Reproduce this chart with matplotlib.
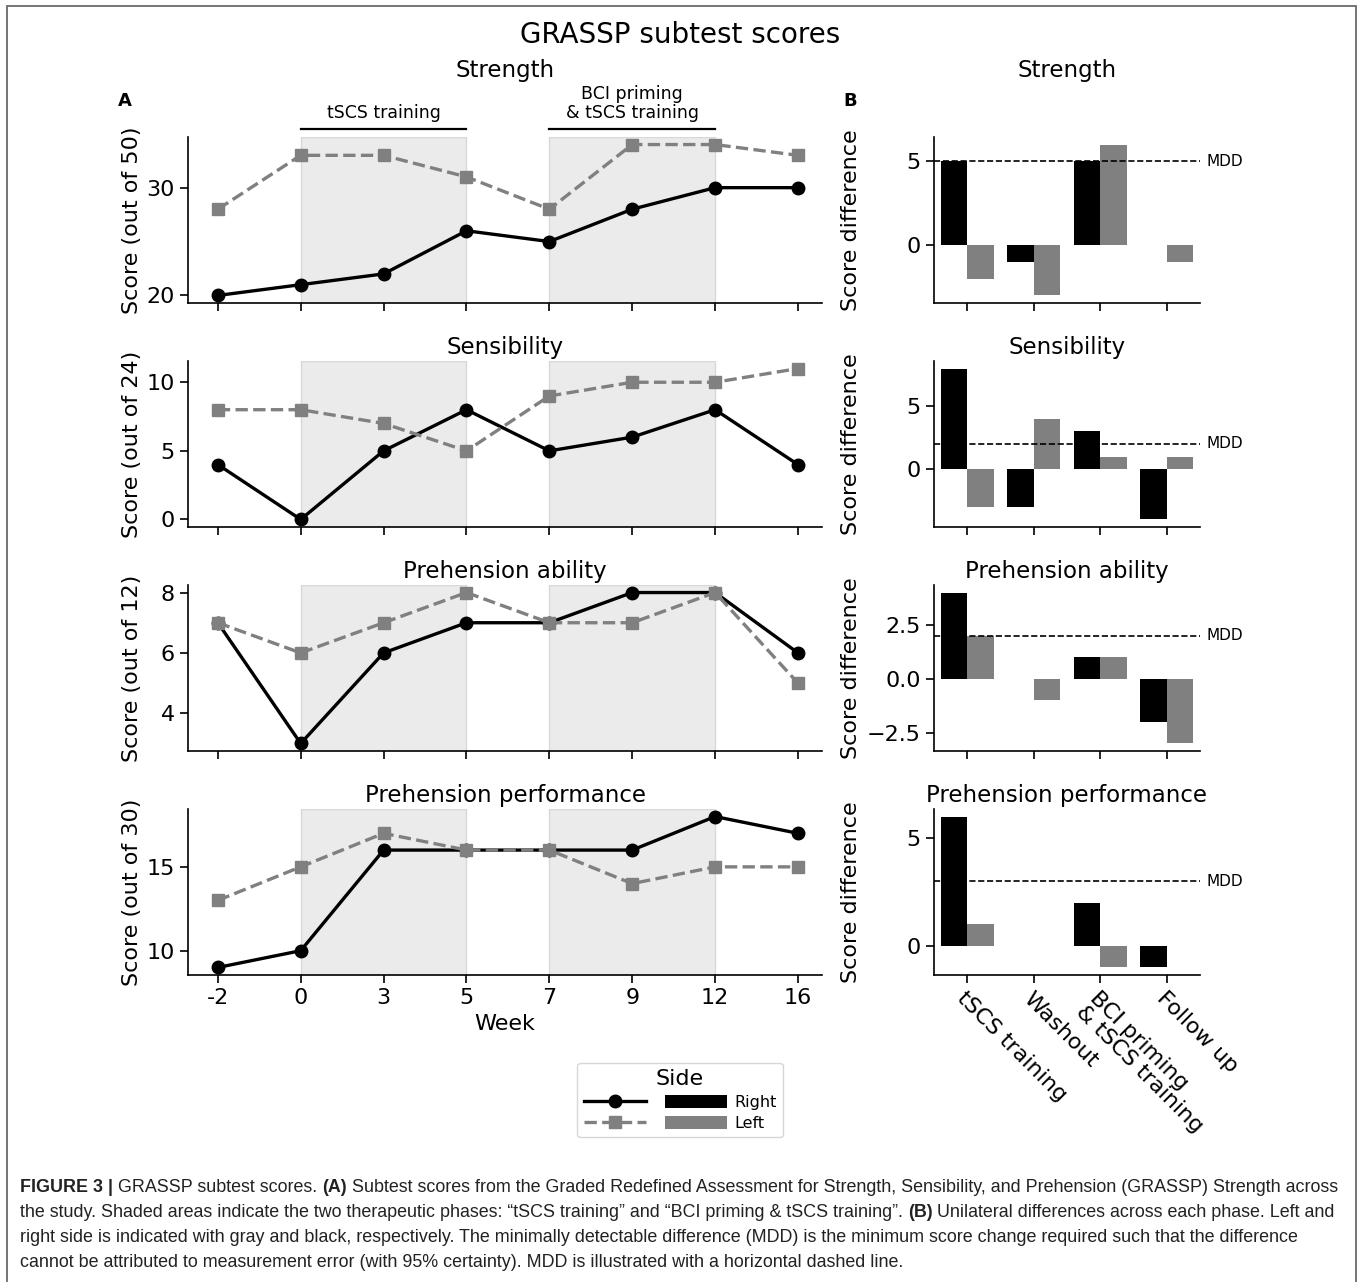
import matplotlib
matplotlib.use('Agg')
import matplotlib.pyplot as plt
import matplotlib.transforms as mtransforms
from matplotlib.lines import Line2D
from matplotlib.patches import Patch, Rectangle
import numpy as np

plt.rcParams['font.family'] = ['DejaVu Sans']

# ---------------- data ----------------
weeks = ['-2', '0', '3', '5', '7', '9', '12', '16']
subtests = ['Strength', 'Sensibility', 'Prehension ability', 'Prehension performance']
ylabels_left = ['Score (out of 50)', 'Score (out of 24)', 'Score (out of 12)', 'Score (out of 30)']

strength_right = [20, 21, 22, 26, 25, 28, 30, 30]
strength_left = [28, 33, 33, 31, 28, 34, 34, 33]
sensibility_right = [4, 0, 5, 8, 5, 6, 8, 4]
sensibility_left = [8, 8, 7, 5, 9, 10, 10, 11]
ability_right = [7, 3, 6, 7, 7, 8, 8, 6]
ability_left = [7, 6, 7, 8, 7, 7, 8, 5]
performance_right = [9, 10, 16, 16, 16, 16, 18, 17]
performance_left = [13, 15, 17, 16, 16, 14, 15, 15]

phases = ['tSCS training', 'Washout', 'BCI priming\n& tSCS training', 'Follow up']
strength_diff_right = [5, -1, 5, 0]
strength_diff_left = [-2, -3, 6, -1]
sensibility_diff_right = [8, -3, 3, -4]
sensibility_diff_left = [-3, 4, 1, 1]
ability_diff_right = [4, 0, 1, -2]
ability_diff_left = [2, -1, 1, -3]
performance_diff_right = [6, 0, 2, -1]
performance_diff_left = [1, 0, -1, 0]
mdd_values = [5, 2, 2, 3]

therapy_spans = [(1, 3), (4, 6)]
therapy_labels = ['tSCS training', 'BCI priming\n& tSCS training']

left_yticks = [[20, 30], [0, 5, 10], [4, 6, 8], [10, 15]]
right_yticks = [[0, 5], [0, 5], [-2.5, 0, 2.5], [0, 5]]

right_series = [strength_right, sensibility_right, ability_right, performance_right]
left_series = [strength_left, sensibility_left, ability_left, performance_left]
diff_right = [strength_diff_right, sensibility_diff_right, ability_diff_right, performance_diff_right]
diff_left = [strength_diff_left, sensibility_diff_left, ability_diff_left, performance_diff_left]

# ---------------- styling ----------------
BLACK = '#000000'
GRAY = '#808080'
SHADE = '#ebebeb'

W, H = 1360, 1282
fig = plt.figure(figsize=(W / 100, H / 100), dpi=100)
fig.patch.set_facecolor('white')


def px_axes(l, t, r, b):
    return fig.add_axes([l / W, 1 - b / H, (r - l) / W, (b - t) / H])


def style_axes(ax):
    for s in ['top', 'right']:
        ax.spines[s].set_visible(False)
    for s in ['left', 'bottom']:
        ax.spines[s].set_linewidth(1.2)
    ax.tick_params(labelsize=16, length=6, width=1.2)


L_LEFT, L_RIGHT = 188, 822
R_LEFT, R_RIGHT = 934, 1200
TOP0, BOT0, STEP = 137, 303, 224

x = np.arange(len(weeks))
xb = np.arange(len(phases))

for i in range(4):
    top = TOP0 + STEP * i
    bot = BOT0 + STEP * i

    # ---------- left column ----------
    ax = px_axes(L_LEFT, top, L_RIGHT, bot)
    style_axes(ax)
    for (a, b) in therapy_spans:
        ax.axvspan(a, b, facecolor=SHADE, edgecolor='#d8d8d8', lw=1.0, zorder=0)
    ax.plot(x, right_series[i], color=BLACK, lw=2.4, marker='o', ms=9, zorder=3)
    ax.plot(x, left_series[i], color=GRAY, lw=2.4, ls='--', marker='s', ms=8.5, zorder=4)
    ax.set_xlim(-0.36, 7.29)
    ax.set_xticks(x)
    ax.set_yticks(left_yticks[i])
    if i == 3:
        ax.set_xticklabels(weeks)
        ax.set_xlabel('Week', fontsize=16)
    else:
        ax.set_xticklabels([])
    ax.set_ylabel(ylabels_left[i], fontsize=16)
    ax.yaxis.set_label_coords(-0.072, 0.5)
    if i == 0:
        trans = mtransforms.blended_transform_factory(ax.transData, ax.transAxes)
        for (a, b), lab in zip(therapy_spans, therapy_labels):
            ax.plot([a, b], [1.048, 1.048], color=BLACK, lw=1.6, transform=trans, clip_on=False)
            ax.text((a + b) / 2, 1.09, lab, transform=trans, ha='center', va='bottom',
                    fontsize=12.5, linespacing=1.05)
        fig.text((L_LEFT + L_RIGHT) / 2 / W, 1 - 71 / H, subtests[i], ha='center', va='center', fontsize=16.5)
    else:
        ax.set_title(subtests[i], fontsize=16.5, pad=5)

    # ---------- right column ----------
    axr = px_axes(R_LEFT, top, R_RIGHT, bot)
    style_axes(axr)
    axr.bar(xb - 0.2, diff_right[i], width=0.4, color=BLACK, zorder=2)
    axr.bar(xb + 0.2, diff_left[i], width=0.4, color=GRAY, zorder=2)
    axr.axhline(mdd_values[i], color=BLACK, ls='--', lw=1.2, zorder=3)
    transr = mtransforms.blended_transform_factory(axr.transAxes, axr.transData)
    axr.text(1.026, mdd_values[i], 'MDD', transform=transr, ha='left', va='center', fontsize=11)
    axr.set_xlim(-0.5, 3.5)
    axr.set_xticks(xb)
    axr.set_yticks(right_yticks[i])
    axr.set_ylabel('Score difference', fontsize=16)
    axr.yaxis.set_label_coords(-0.274, 0.5)
    if i == 3:
        axr.set_xticklabels(phases, rotation=-45, ha='left', va='top',
                            rotation_mode='anchor', fontsize=16, linespacing=1.0)
    else:
        axr.set_xticklabels([])
    if i == 0:
        fig.text((R_LEFT + R_RIGHT) / 2 / W, 1 - 71 / H, subtests[i], ha='center', va='center', fontsize=16.5)
    else:
        axr.set_title(subtests[i], fontsize=16.5, pad=5)

# titles and panel letters
fig.text(680 / W, 1 - 35 / H, 'GRASSP subtest scores', ha='center', va='center', fontsize=20)
fig.text(125 / W, 1 - 101 / H, 'A', ha='center', va='center', fontsize=13, fontweight='bold')
fig.text(850 / W, 1 - 101 / H, 'B', ha='center', va='center', fontsize=13, fontweight='bold')

# legend
h_line_r = Line2D([], [], color=BLACK, lw=2.4, marker='o', ms=9)
h_line_l = Line2D([], [], color=GRAY, lw=2.4, ls='--', marker='s', ms=8.5)
h_bar_r = Patch(facecolor=BLACK)
h_bar_l = Patch(facecolor=GRAY)
leg = fig.legend([h_line_r, h_line_l, h_bar_r, h_bar_l], ['', '', 'Right', 'Left'],
                 ncol=2, title='Side', loc='upper center',
                 bbox_to_anchor=(680 / W, 1 - 1055 / H), fontsize=11.5, title_fontsize=16,
                 handlelength=3.9, handleheight=0.9, columnspacing=0.8, handletextpad=0.4,
                 labelspacing=0.35, borderpad=0.4, frameon=True, fancybox=True)
leg.get_frame().set_edgecolor('#cccccc')

# outer frame
fig.add_artist(Rectangle((7 / W, -0.02), (1356 - 7) / W, 1 - 6 / H + 0.02,
                         transform=fig.transFigure, fill=False, edgecolor='#6a6a6a', lw=1.3))

# caption
cap_font = ['Liberation Sans', 'DejaVu Sans']
caption_lines = [
    [("FIGURE 3 |", True), (" GRASSP subtest scores. ", False), ("(A)", True),
     (" Subtest scores from the Graded Redefined Assessment for Strength, Sensibility, and Prehension (GRASSP) Strength across", False)],
    [("the study. Shaded areas indicate the two therapeutic phases: \u201ctSCS training\u201d and \u201cBCI priming & tSCS training\u201d. ", False),
     ("(B)", True), (" Unilateral differences across each phase. Left and", False)],
    [("right side is indicated with gray and black, respectively. The minimally detectable difference (MDD) is the minimum score change required such that the difference", False)],
    [("cannot be attributed to measurement error (with 95% certainty). MDD is illustrated with a horizontal dashed line.", False)],
]
renderer = fig.canvas.get_renderer()


def tw(s, size, bold):
    kw = dict(fontsize=size, fontweight='bold' if bold else 'normal', family=cap_font)
    t1 = fig.text(0, 0, '|' + s + '|', **kw)
    t2 = fig.text(0, 0, '||', **kw)
    w = t1.get_window_extent(renderer).width - t2.get_window_extent(renderer).width
    t1.remove()
    t2.remove()
    return w


base = 12.0
w1 = sum(tw(s, base, b) for s, b in caption_lines[0])
cap_size = base * (1340 - 20) / w1
baselines = [1192, 1217, 1242, 1267]
for line, yb in zip(caption_lines, baselines):
    xc = 20.0
    for s, b in line:
        fig.text(xc / W, 1 - yb / H, s, fontsize=cap_size, fontweight='bold' if b else 'normal',
                 family=cap_font, ha='left', va='baseline', color='#222222')
        xc += tw(s, cap_size, b)

fig.savefig('out.png', dpi=100, facecolor='white')
